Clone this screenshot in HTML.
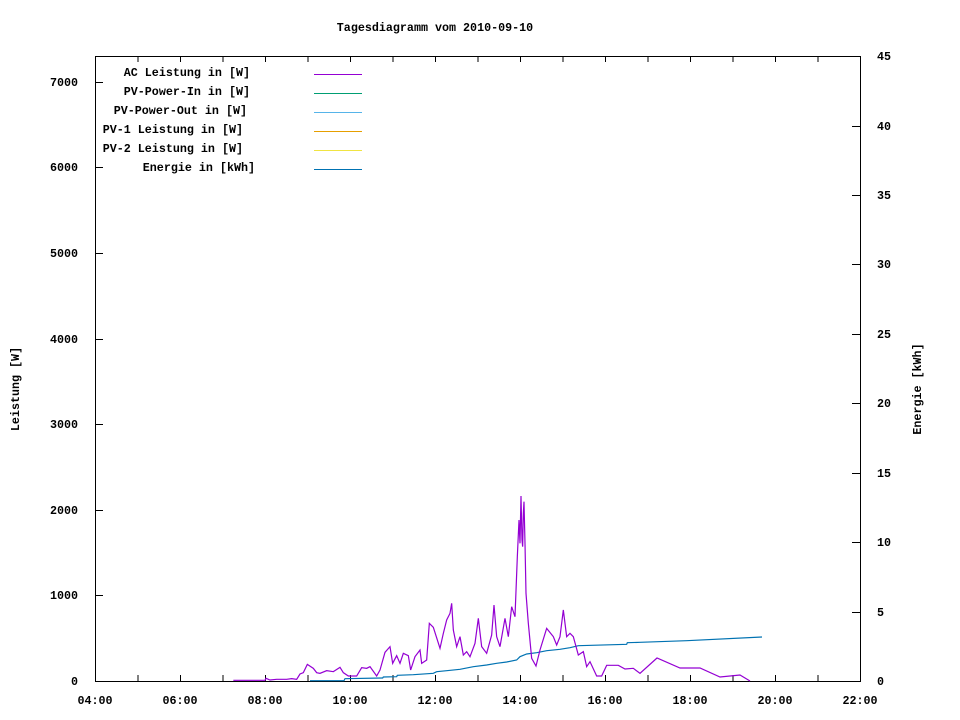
<!DOCTYPE html>
<html><head><meta charset="utf-8"><style>
body{margin:0;background:#fff}
svg{display:block}
text{font-family:"Liberation Mono",monospace;font-size:11.7px;font-weight:bold;fill:#000}
</style></head><body>
<svg width="960" height="720" xmlns="http://www.w3.org/2000/svg">
<text x="435" y="31" text-anchor="middle">Tagesdiagramm vom 2010-09-10</text>
<rect x="95.5" y="56.5" width="765" height="625" fill="none" stroke="#000"/>
<g stroke="#000" stroke-width="1">
<path d="M95.5 681v-6M138 681v-6M180.5 681v-6M223 681v-6M265.5 681v-6M308 681v-6M350.5 681v-6M393 681v-6M435.5 681v-6M478 681v-6M520.5 681v-6M563 681v-6M605.5 681v-6M648 681v-6M690.5 681v-6M733 681v-6M775.5 681v-6M818 681v-6
M138 56v6M180.5 56v6M223 56v6M265.5 56v6M308 56v6M350.5 56v6M393 56v6M435.5 56v6M478 56v6M520.5 56v6M563 56v6M605.5 56v6M648 56v6M690.5 56v6M733 56v6M775.5 56v6M818 56v6"/>
<path d="M95 595.5h8M95 510.5h8M95 424.5h8M95 339.5h8M95 253.5h8M95 167.5h8M95 82.5h8"/>
<path d="M860 612.5h-8M860 542.5h-8M860 473.5h-8M860 403.5h-8M860 334.5h-8M860 264.5h-8M860 195.5h-8M860 126.5h-8"/>
</g>
<g text-anchor="end">
<text x="78" y="685">0</text><text x="78" y="599">1000</text><text x="78" y="514">2000</text>
<text x="78" y="428">3000</text><text x="78" y="343">4000</text><text x="78" y="257">5000</text>
<text x="78" y="171">6000</text><text x="78" y="86">7000</text>
</g>
<g text-anchor="start">
<text x="877" y="685">0</text><text x="877" y="616">5</text><text x="877" y="546">10</text>
<text x="877" y="477">15</text><text x="877" y="407">20</text><text x="877" y="338">25</text>
<text x="877" y="268">30</text><text x="877" y="199">35</text><text x="877" y="130">40</text><text x="877" y="60">45</text>
</g>
<g text-anchor="middle">
<text x="95" y="704">04:00</text><text x="180" y="704">06:00</text><text x="265" y="704">08:00</text>
<text x="350" y="704">10:00</text><text x="435" y="704">12:00</text><text x="520" y="704">14:00</text>
<text x="605" y="704">16:00</text><text x="690" y="704">18:00</text><text x="775" y="704">20:00</text><text x="860" y="704">22:00</text>
</g>
<text transform="translate(19,389) rotate(-90)" text-anchor="middle">Leistung [W]</text>
<text transform="translate(921,389) rotate(-90)" text-anchor="middle">Energie [kWh]</text>
<g text-anchor="end">
<text x="250" y="76">AC Leistung in [W]</text>
<text x="250" y="95">PV-Power-In in [W]</text>
<text x="247" y="114">PV-Power-Out in [W]</text>
<text x="243" y="133">PV-1 Leistung in [W]</text>
<text x="243" y="152">PV-2 Leistung in [W]</text>
<text x="255" y="171">Energie in [kWh]</text>
</g>
<g stroke-width="1">
<path d="M314 74.5h48" stroke="#9400d3"/>
<path d="M314 93.5h48" stroke="#009e73"/>
<path d="M314 112.5h48" stroke="#56b4e9"/>
<path d="M314 131.5h48" stroke="#e69f00"/>
<path d="M314 150.5h48" stroke="#f0e442"/>
<path d="M314 169.5h48" stroke="#0072b2"/>
</g>
<g transform="translate(220,480) scale(0.33333)" fill="none">
<polyline vector-effect="non-scaling-stroke" stroke="#0072b2" stroke-width="1.2" points="270,602 372,602 375,596 488,594 490,591 530,590 532,586 580,584 640,580 650,575 680,572 720,568 760,560 800,555 830,550 860,546 890,540 900,530 920,522 950,518 980,512 1020,508 1050,503 1075,497 1220,493 1222,488 1260,487 1400,482 1626,471"/>
<polyline vector-effect="non-scaling-stroke" stroke="#9400d3" stroke-width="1.2" points="40,601 135,601 138,595 150,600 170,598 200,598 215,596 230,598 240,582 250,578 262,553 280,565 290,578 300,580 320,572 340,575 360,562 370,578 385,588 410,588 425,563 440,565 450,560 470,588 480,570 495,517 510,500 518,550 530,527 540,550 550,520 565,527 572,570 585,530 600,510 605,550 620,540 628,430 640,442 660,505 670,460 680,420 690,400 695,370 700,450 710,500 720,470 730,525 740,515 750,530 765,490 775,415 785,500 800,520 815,465 822,375 830,470 840,500 855,415 865,470 875,380 885,410 892,230 897,120 900,190 903,48 906,180 908,200 910,100 912,65 915,190 918,340 925,430 935,535 948,558 960,510 980,445 1000,470 1010,495 1020,470 1030,390 1040,470 1050,460 1060,470 1075,525 1090,515 1100,560 1110,545 1130,588 1145,588 1160,556 1195,556 1215,567 1240,565 1260,580 1311,534 1380,564 1440,564 1500,591 1560,585 1590,603"/>
</g>
</svg>
</body></html>
